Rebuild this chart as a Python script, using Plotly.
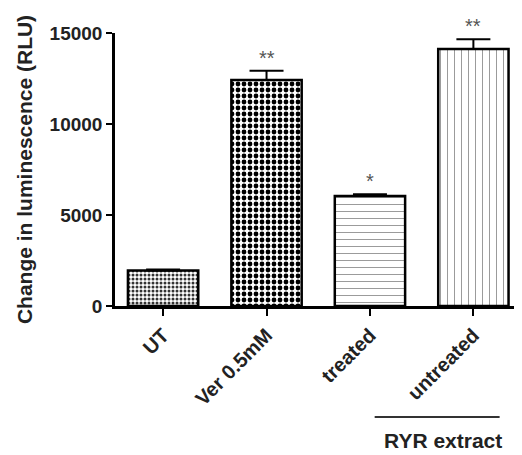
import plotly.graph_objects as go

categories = ["UT", "Ver 0.5mM", "treated", "untreated"]
values = [1950, 12420, 6050, 14120]
errors = [60, 510, 90, 530]
stars = ["", "**", "*", "**"]
y_ticks = [0, 5000, 10000, 15000]
y_tick_text = ["0", "5000", "10000", "15000"]

shapes_pat = [".", ".", "-", "|"]
pat_size = [4, 6, 7, 7]
pat_sol = [0.45, 0.5, 0.12, 0.12]
pat_fg = ["#333333", "#000000", "#888888", "#888888"]

FONT = "Liberation Sans"

fig = go.Figure()
for i, c in enumerate(categories):
    fig.add_trace(go.Bar(
        x=[c], y=[values[i]],
        width=0.68,
        marker=dict(
            color="white",
            line=dict(color="black", width=2.5),
            pattern=dict(shape=shapes_pat[i], size=pat_size[i], solidity=pat_sol[i],
                         fgcolor=pat_fg[i], bgcolor="white", fillmode="replace"),
        ),
        error_y=dict(type="data", array=[errors[i]], arrayminus=[0], symmetric=False,
                     color="black", thickness=2, width=17),
        showlegend=False,
    ))

for i, c in enumerate(categories):
    if stars[i]:
        fig.add_annotation(x=c, y=values[i] + errors[i], text=stars[i], showarrow=False,
                           xanchor="center", yanchor="bottom", yshift=0,
                           font=dict(size=20, color="#555555", family=FONT))

fig.add_shape(type="line", xref="paper", yref="paper", x0=0.638, x1=0.945, y0=-0.4066, y1=-0.4066,
              line=dict(color="#333333", width=2))
fig.add_annotation(xref="paper", yref="paper", x=0.806, y=-0.4945, text="<b>RYR extract</b>",
                   showarrow=False, xanchor="center", yanchor="middle",
                   font=dict(size=21, color="#222222", family=FONT))

# page body has an 8px default margin, so the figure is sized/margined to compensate
fig.update_layout(
    width=514, height=447,
    margin=dict(l=107, r=0, t=25, b=149, autoexpand=False),
    plot_bgcolor="white", paper_bgcolor="white",
    font=dict(family=FONT, color="#222222"),
)
fig.update_xaxes(
    range=[-0.465, 3.47],
    automargin=False,
    showline=True, linecolor="black", linewidth=2.5,
    ticks="outside", ticklen=7, tickwidth=2, tickcolor="black",
    tickangle=-45,
    tickfont=dict(size=20, family=FONT, color="#222222", weight="bold"),
    showgrid=False, zeroline=False,
)
fig.update_yaxes(
    range=[0, 15000],
    automargin=False,
    tickvals=y_ticks, ticktext=y_tick_text,
    showline=True, linecolor="black", linewidth=2.5,
    ticks="outside", ticklen=6, tickwidth=2, tickcolor="black",
    tickfont=dict(size=19, family=FONT, color="#222222", weight="bold"),
    title=dict(text="Change in luminescence (RLU)", standoff=12,
               font=dict(size=21, family=FONT, color="#222222", weight="bold")),
    showgrid=False, zeroline=False,
)

fig.write_html("out.html")
